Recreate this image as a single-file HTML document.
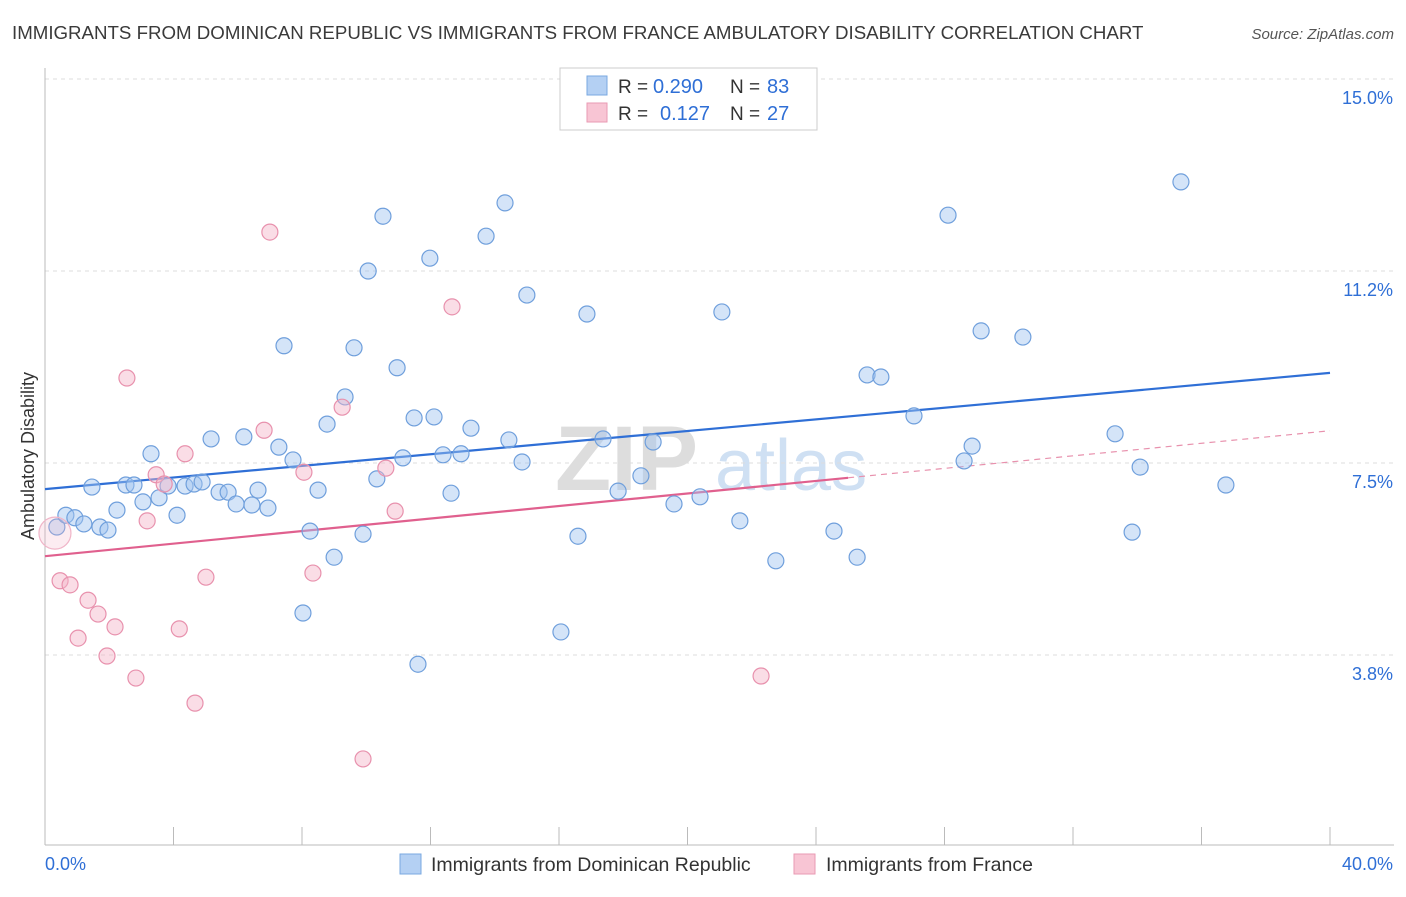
<!DOCTYPE html>
<html><head><meta charset="utf-8"><style>
body{margin:0;background:#fff;font-family:"Liberation Sans",sans-serif;}
svg text{font-family:"Liberation Sans",sans-serif;}
</style></head><body>
<svg id="chart" width="1406" height="892" viewBox="0 0 1406 892" xmlns="http://www.w3.org/2000/svg">
<text x="12" y="39" font-size="18.7" fill="#3a3a3a">IMMIGRANTS FROM DOMINICAN REPUBLIC VS IMMIGRANTS FROM FRANCE AMBULATORY DISABILITY CORRELATION CHART</text>
<text x="1394" y="39" font-size="15" fill="#555" font-style="italic" text-anchor="end">Source: ZipAtlas.com</text>
<text transform="translate(34,456) rotate(-90)" font-size="18" fill="#333" text-anchor="middle">Ambulatory Disability</text>
<g>
<text x="555" y="490" font-size="92" fill="#ddd" font-family="Liberation Serif" font-weight="bold">ZIP</text>
<text x="715" y="490" font-size="72" fill="#cfe0f3">atlas</text>
</g>
<g id="grid"></g><g id="axes"></g><g id="trends"></g><g id="points"></g>
<g>
<rect x="560" y="68" width="257" height="62" fill="#fff" stroke="#ccc"/>
<rect x="587" y="76" width="20" height="19" fill="#b4d0f3" stroke="#7aa8e0"/>
<rect x="587" y="103" width="20" height="19" fill="#f8c5d4" stroke="#e99ab3"/>
<text x="618" y="93" font-size="19" fill="#333">R =</text>
<text x="653" y="93" font-size="20" fill="#2f6fd6">0.290</text>
<text x="730" y="93" font-size="19" fill="#333">N =</text>
<text x="767" y="93" font-size="20" fill="#2f6fd6">83</text>
<text x="618" y="120" font-size="19" fill="#333">R =</text>
<text x="660" y="120" font-size="20" fill="#2f6fd6">0.127</text>
<text x="730" y="120" font-size="19" fill="#333">N =</text>
<text x="767" y="120" font-size="20" fill="#2f6fd6">27</text>
</g>
<g>
<rect x="400" y="854" width="21" height="20" fill="#b4d0f3" stroke="#7aa8e0"/>
<text x="431" y="871" font-size="19.5" fill="#333">Immigrants from Dominican Republic</text>
<rect x="794" y="854" width="21" height="20" fill="#f8c5d4" stroke="#e99ab3"/>
<text x="826" y="871" font-size="19.5" fill="#333">Immigrants from France</text>
</g>
</svg>
<script>
const blueX=[0.37,0.65,0.93,1.21,1.46,1.71,1.96,2.24,2.52,2.77,3.05,3.30,3.55,3.83,4.11,4.36,4.64,4.89,5.17,5.42,5.70,5.95,6.19,6.44,6.63,6.94,7.28,7.44,7.72,8.25,8.50,8.78,9.00,9.34,9.62,9.90,10.06,10.33,10.52,10.96,11.14,11.49,11.61,11.98,12.11,12.39,12.64,12.95,13.26,13.73,14.32,14.44,14.85,15.00,16.06,16.59,16.87,17.37,17.84,18.55,18.93,19.58,20.39,21.07,21.63,22.75,24.56,25.28,25.59,26.02,27.05,28.11,28.61,28.86,29.14,30.44,33.31,33.84,34.09,35.36,36.76,8.03];
const blueY=[6.25,6.48,6.43,6.31,7.03,6.25,6.19,6.58,7.07,7.07,6.74,7.68,6.82,7.05,6.48,7.05,7.09,7.13,7.97,6.93,6.93,6.70,8.01,6.68,6.97,6.62,7.81,9.79,7.56,6.17,6.97,8.26,5.66,8.79,9.75,6.11,11.25,7.19,12.32,9.36,7.60,8.38,3.57,11.50,8.40,7.66,6.91,7.68,8.18,11.93,12.58,7.95,7.52,10.78,4.20,6.07,10.41,7.97,6.95,7.25,7.91,6.70,6.84,10.45,6.37,5.59,6.17,5.66,9.22,9.18,8.42,12.34,7.54,7.83,10.08,9.96,8.07,6.15,7.42,12.99,7.07,4.57];
const pinkX=[0.31,0.47,0.78,1.03,1.34,1.65,1.93,2.18,2.55,2.83,3.18,3.46,3.71,4.18,4.36,4.67,5.01,6.82,7.00,8.06,8.34,9.25,9.90,10.61,10.90,12.67,22.29];
const pinkY=[6.13,5.20,5.12,4.08,4.82,4.55,3.73,4.30,9.16,3.30,6.37,7.27,7.09,4.26,7.68,2.81,5.27,8.14,12.01,7.32,5.35,8.59,1.72,7.40,6.56,10.55,3.34];
const yTicks=[3.75,7.5,11.25,15.0];
const yTickLabels=["3.8%","7.5%","11.2%","15.0%"];
const xTicks=[0,4,8,12,16,20,24,28,32,36,40];
const blueTrend=[6.99,9.26];
const pinkTrend=[5.68,8.13];
const pinkSolidEnd=25;

const NS="http://www.w3.org/2000/svg";
const xs=v=>45+v*32.125;
const ys=v=>463-(v-7.5)*51.2;
function mk(tag,attrs,parent){const e=document.createElementNS(NS,tag);for(const k in attrs)e.setAttribute(k,attrs[k]);document.getElementById(parent).appendChild(e);return e;}
yTicks.forEach((t,i)=>{
  const l=mk('line',{x1:45,x2:1394,y1:ys(t),y2:ys(t),stroke:'#ddd','stroke-dasharray':'4,4'},'grid');
  
  
  const tx=mk('text',{x:1393,y:ys(t)+25,'font-size':18,fill:'#2f6fd6','text-anchor':'end'},'grid');
  tx.textContent=yTickLabels[i];
  
  
});
const ax=mk('line',{x1:45,x2:45,y1:68,y2:845,stroke:'#bbb'},'axes');


const bx=mk('line',{x1:45,x2:1394,y1:845,y2:845,stroke:'#bbb'},'axes');


xTicks.forEach(t=>{
  const l=mk('line',{x1:xs(t),x2:xs(t),y1:827,y2:845,stroke:'#bbb'},'axes');
  
  
});
const xl0=mk('text',{x:45,y:870,'font-size':18,fill:'#2f6fd6'},'axes');xl0.textContent=xTicks[0].toFixed(1)+'%';


const xl1=mk('text',{x:1393,y:870,'font-size':18,fill:'#2f6fd6','text-anchor':'end'},'axes');xl1.textContent=xTicks[xTicks.length-1].toFixed(1)+'%';



blueX.forEach((x,i)=>{
  const c=mk('circle',{cx:xs(x),cy:ys(blueY[i]),r:8,fill:'rgba(160,196,240,0.45)',stroke:'#6f9fdc','stroke-width':1.2},'points');
  
  
});
pinkX.forEach((x,i)=>{
  const c=mk('circle',{cx:xs(x),cy:ys(pinkY[i]),r:i===0?16:8,fill:i===0?'rgba(245,180,200,0.25)':'rgba(245,180,200,0.45)',stroke:i===0?'#f0b5c8':'#e891ad','stroke-width':1.2},'points');
  
  
});
const bt=mk('line',{x1:xs(0),y1:ys(blueTrend[0]),x2:xs(40),y2:ys(blueTrend[1]),stroke:'#2f6fd6','stroke-width':2.2},'trends');


const pm=pinkTrend[0]+(pinkTrend[1]-pinkTrend[0])*pinkSolidEnd/40;
const pt=mk('line',{x1:xs(0),y1:ys(pinkTrend[0]),x2:xs(pinkSolidEnd),y2:ys(pm),stroke:'#e0608e','stroke-width':2.2},'trends');


const pd=mk('line',{x1:xs(pinkSolidEnd),y1:ys(pm),x2:xs(40),y2:ys(pinkTrend[1]),stroke:'#e891ad','stroke-width':1.2,'stroke-dasharray':'6,5'},'trends');


</script>
</body></html>
